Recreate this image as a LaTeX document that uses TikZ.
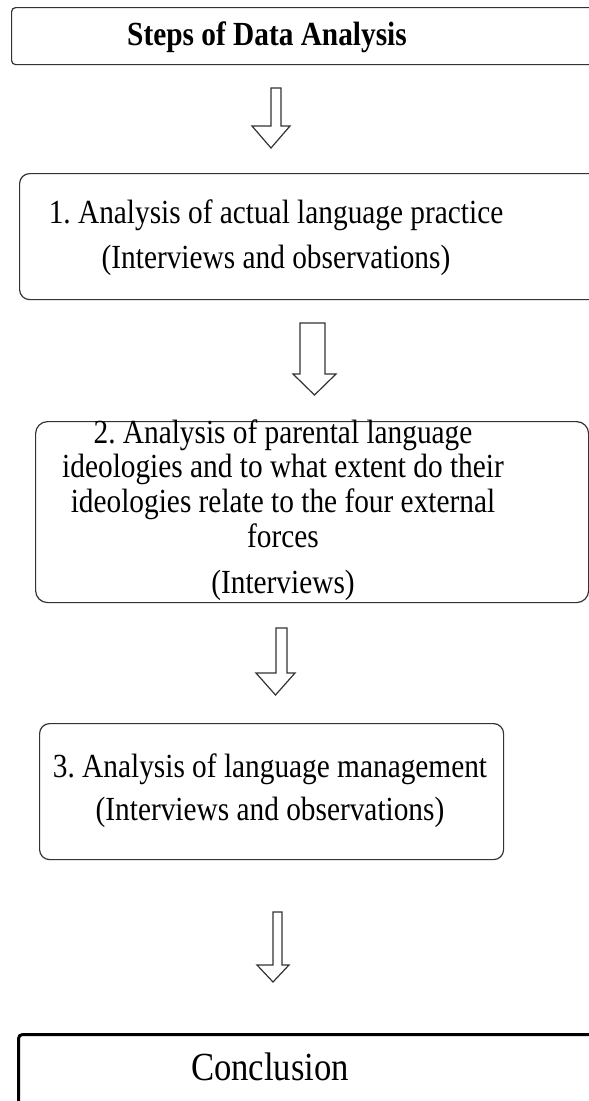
\documentclass[tikz,border=0pt]{standalone}
\usepackage{fontspec}
\setmainfont{Liberation Serif}
\usetikzlibrary{positioning}

\tikzset{
  stepbox/.style={draw=black!80,line width=0.9pt,rounded corners=#1,inner sep=0pt,anchor=north west},
  stepbox/.default=7.5pt,
  steptext/.style={align=center,anchor=base,inner sep=0pt,yscale=1.15,transform shape,
    font=\fontsize{22}{22.6}\selectfont},
  blockarrow/.style={draw=black!80,line width=0.9pt,line join=miter,fill=white}
}
% shaft left, shaft right, head left, head right, top, head start, tip
\newcommand\flowArrow[7]{%
  \draw[blockarrow] (#1,#5) -- (#2,#5) -- (#2,#6) -- (#4,#6) -- ({(#3+#4)/2},#7) -- (#3,#6) -- (#1,#6) -- cycle;}

\begin{document}
\frenchspacing
\begin{tikzpicture}[x=0.75pt,y=-0.75pt]
\useasboundingbox (0,0) rectangle (589,1101);

% frames
\node[stepbox=3pt,minimum width=600*0.75pt,minimum height=57*0.75pt] (titlebox) at (11,7) {};
\node[stepbox,minimum width=600*0.75pt,minimum height=126*0.75pt] (practicebox) at (19,173) {};
\node[stepbox=9pt,minimum width=553*0.75pt,minimum height=181*0.75pt] (ideologybox) at (35,421) {};
\node[stepbox,minimum width=464*0.75pt,minimum height=136*0.75pt] (managementbox) at (39,723) {};
\node[stepbox=3pt,draw=black,line width=2.25pt,minimum width=600*0.75pt,minimum height=100*0.75pt] (conclusionbox) at (17,1033) {};

% texts (base = last line)
\node[steptext,font=\bfseries\fontsize{22}{22.6}\selectfont] (title) at (267,45) {Steps of Data Analysis};
\node[steptext,font=\fontsize{22}{29.35}\selectfont] (practice) at (276,268)
  {1. Analysis of actual language practice\\(Interviews and observations)};
\node[steptext] (ideology) at (283,593)
  {2. Analysis of parental language\\ideologies and to what extent do their\\ideologies relate to the four external\\forces\\[7.4pt](Interviews)};
\node[steptext,font=\fontsize{22}{28.04}\selectfont] (management) at (270,820)
  {3. Analysis of language management\\(Interviews and observations)};
\node[steptext,font=\fontsize{26}{26}\selectfont] (conclusion) at (270,1080) {Conclusion};

% arrows
\flowArrow{271}{281}{252}{290}{88}{126}{148}
\flowArrow{300}{325}{293}{336}{323}{374}{395}
\flowArrow{276}{287}{256}{295}{628}{673}{695}
\flowArrow{273}{282}{257}{289}{912}{965}{982}
\end{tikzpicture}
\end{document}
